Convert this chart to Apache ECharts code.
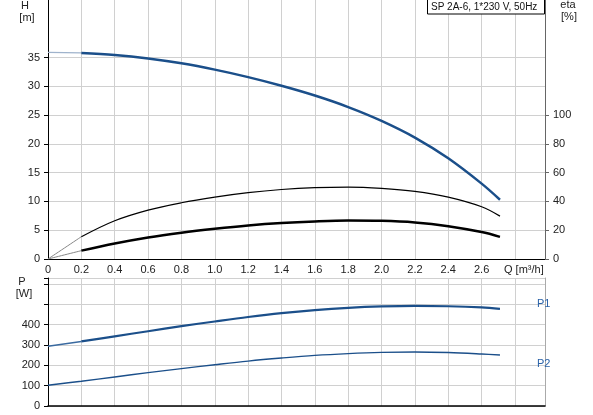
<!DOCTYPE html>
<html><head><meta charset="utf-8">
<script src="https://cdn.jsdelivr.net/npm/echarts@6/dist/echarts.min.js"></script>
<style>html,body{margin:0;padding:0;background:#fff}#c{width:593px;height:415px}</style>
</head><body><div id="c"></div>
<script>
var q    = [0, 0.2, 0.4, 0.6, 0.8, 1.0, 1.2, 1.4, 1.6, 1.8, 2.0, 2.2, 2.4, 2.6, 2.71];
var head = [35.9, 35.8, 35.45, 34.85, 34.0, 32.9, 31.6, 30.1, 28.4, 26.4, 24.0, 21.1, 17.5, 13.1, 10.3];
var etaPump  = [0, 15.5, 26.6, 34.0, 39.1, 43.0, 46.1, 48.3, 49.6, 50.0, 49.1, 47.0, 43.0, 36.3, 29.8];
var etaTotal = [0, 5.8, 10.8, 15.0, 18.3, 21.0, 23.3, 25.0, 26.1, 26.7, 26.5, 25.4, 22.8, 18.7, 15.4];
var p1 = [294, 318, 343, 368, 393, 416, 438, 457, 472, 483, 490, 493, 491, 485, 478];
var p2 = [102, 122, 143, 164, 184, 203, 221, 236, 249, 258, 264, 266, 263, 256, 251];
var xTicks = [0, 0.2, 0.4, 0.6, 0.8, 1.0, 1.2, 1.4, 1.6, 1.8, 2.0, 2.2, 2.4, 2.6];
var hTicks = [0, 5, 10, 15, 20, 25, 30, 35];
var etaTicks = [0, 20, 40, 60, 80, 100];
var pTicks = [0, 100, 200, 300, 400];
var title = 'SP 2A-6, 1*230 V, 50Hz';

function pairs(ys, from, to) {
  var out = [];
  for (var i = from; i <= to; i++) out.push([q[i], ys[i]]);
  return out;
}
var last = q.length - 1;
var F = 'Liberation Sans, Arial, sans-serif';
var lab = {color: '#222', fontSize: 11, fontFamily: F};
var grid = {lineStyle: {color: '#d0d0d0', width: 1}};
var blue = '#1b4f8a';
var S = 0.35;

var chart = echarts.init(document.getElementById('c'));
chart.setOption({
  animation: false,
  grid: [
    {left: 48, right: 48, top: 0, height: 259},
    {left: 48, right: 48, top: 278, height: 128}
  ],
  xAxis: [
    {gridIndex: 0, type: 'value', min: 0, max: 2.98, interval: 0.2, position: 'bottom',
     axisLine: {show: true, lineStyle: {color: '#000', width: 1}},
     axisTick: {show: false},
     axisLabel: Object.assign({}, lab, {margin: 5, customValues: xTicks,
       formatter: function (v) { return v === 0 ? '0' : v.toFixed(1); }}),
     splitLine: Object.assign({show: true}, grid)},
    {gridIndex: 1, type: 'value', min: 0, max: 2.98, interval: 0.2, position: 'top',
     axisLine: {show: true, lineStyle: {color: '#000', width: 1.5}},
     axisTick: {show: false}, axisLabel: {show: false},
     splitLine: Object.assign({show: true}, grid)}
  ],
  yAxis: [
    {gridIndex: 0, type: 'value', min: 0, max: 45, interval: 5, position: 'left',
     axisLine: {show: true, lineStyle: {color: '#000', width: 1}},
     axisTick: {show: true, length: 4, lineStyle: {color: '#000'}, customValues: hTicks},
     axisLabel: Object.assign({}, lab, {margin: 8, customValues: hTicks}),
     splitLine: Object.assign({show: true}, grid)},
    {gridIndex: 0, type: 'value', min: 0, max: 180, interval: 20, position: 'right',
     axisLine: {show: true, lineStyle: {color: '#666', width: 1}},
     axisTick: {show: true, length: 4, lineStyle: {color: '#666'}, customValues: etaTicks},
     axisLabel: Object.assign({}, lab, {margin: 8, customValues: etaTicks}),
     splitLine: {show: false}},
    {gridIndex: 1, type: 'value', min: 0, max: 630, interval: 100, position: 'left',
     axisLine: {show: true, lineStyle: {color: '#000', width: 1}},
     axisTick: {show: true, length: 4, lineStyle: {color: '#000'}},
     axisLabel: Object.assign({}, lab, {margin: 8, customValues: pTicks}),
     splitLine: Object.assign({show: true}, grid)},
    {gridIndex: 1, type: 'value', min: 0, max: 630, interval: 100, position: 'right',
     axisLine: {show: true, lineStyle: {color: '#aaa', width: 1}},
     axisTick: {show: false}, axisLabel: {show: false}, splitLine: {show: false}}
  ],
  series: [
    {type: 'line', xAxisIndex: 0, yAxisIndex: 0, data: pairs(head, 0, 1), smooth: S, symbol: 'none',
     lineStyle: {color: '#9fb3cc', width: 1.2}},
    {type: 'line', xAxisIndex: 0, yAxisIndex: 0, data: pairs(head, 1, last), smooth: S, symbol: 'none',
     lineStyle: {color: blue, width: 2.5}},
    {type: 'line', xAxisIndex: 0, yAxisIndex: 1, data: pairs(etaPump, 0, 1), smooth: S, symbol: 'none',
     lineStyle: {color: '#888', width: 1}},
    {type: 'line', xAxisIndex: 0, yAxisIndex: 1, data: pairs(etaPump, 1, last), smooth: S, symbol: 'none',
     lineStyle: {color: '#000', width: 1.2}},
    {type: 'line', xAxisIndex: 0, yAxisIndex: 1, data: pairs(etaTotal, 0, 1), smooth: S, symbol: 'none',
     lineStyle: {color: '#888', width: 1}},
    {type: 'line', xAxisIndex: 0, yAxisIndex: 1, data: pairs(etaTotal, 1, last), smooth: S, symbol: 'none',
     lineStyle: {color: '#000', width: 2.5}},
    {type: 'line', xAxisIndex: 1, yAxisIndex: 2, data: pairs(p1, 0, 1), smooth: S, symbol: 'none',
     lineStyle: {color: '#3a6aa0', width: 1.5}},
    {type: 'line', xAxisIndex: 1, yAxisIndex: 2, data: pairs(p1, 1, last), smooth: S, symbol: 'none',
     lineStyle: {color: blue, width: 2.2}},
    {type: 'line', xAxisIndex: 1, yAxisIndex: 2, data: pairs(p2, 0, last), smooth: S, symbol: 'none',
     lineStyle: {color: blue, width: 1.4}}
  ],
  graphic: [
    {type: 'rect', shape: {x: 427.5, y: -1, width: 117, height: 15},
     style: {fill: '#fff', stroke: '#000', lineWidth: 1}, z: 100},
    {type: 'text', x: 431, y: 7, z: 101,
     style: {text: title, fontSize: 10, fontFamily: F, fill: '#111', verticalAlign: 'middle'}},
    {type: 'text', x: 25, y: 6, style: {text: 'H', fontSize: 11, fontFamily: F, fill: '#222', align: 'center', verticalAlign: 'middle'}},
    {type: 'text', x: 27, y: 18, style: {text: '[m]', fontSize: 11, fontFamily: F, fill: '#222', align: 'center', verticalAlign: 'middle'}},
    {type: 'text', x: 568, y: 5, style: {text: 'eta', fontSize: 11, fontFamily: F, fill: '#222', align: 'center', verticalAlign: 'middle'}},
    {type: 'text', x: 569, y: 17, style: {text: '[%]', fontSize: 11, fontFamily: F, fill: '#222', align: 'center', verticalAlign: 'middle'}},
    {type: 'text', x: 22, y: 282, style: {text: 'P', fontSize: 11, fontFamily: F, fill: '#222', align: 'center', verticalAlign: 'middle'}},
    {type: 'text', x: 24, y: 294, style: {text: '[W]', fontSize: 11, fontFamily: F, fill: '#222', align: 'center', verticalAlign: 'middle'}},
    {type: 'text', x: 504, y: 270, style: {text: 'Q [m³/h]', fontSize: 11, fontFamily: F, fill: '#222', verticalAlign: 'middle'}},
    {type: 'text', x: 537, y: 304, z: 50, style: {text: 'P1', fontSize: 11, fontFamily: F, fill: '#2a62a8', verticalAlign: 'middle'}},
    {type: 'text', x: 537, y: 364, z: 50, style: {text: 'P2', fontSize: 11, fontFamily: F, fill: '#2a62a8', verticalAlign: 'middle'}}
  ]
});
</script></body></html>
